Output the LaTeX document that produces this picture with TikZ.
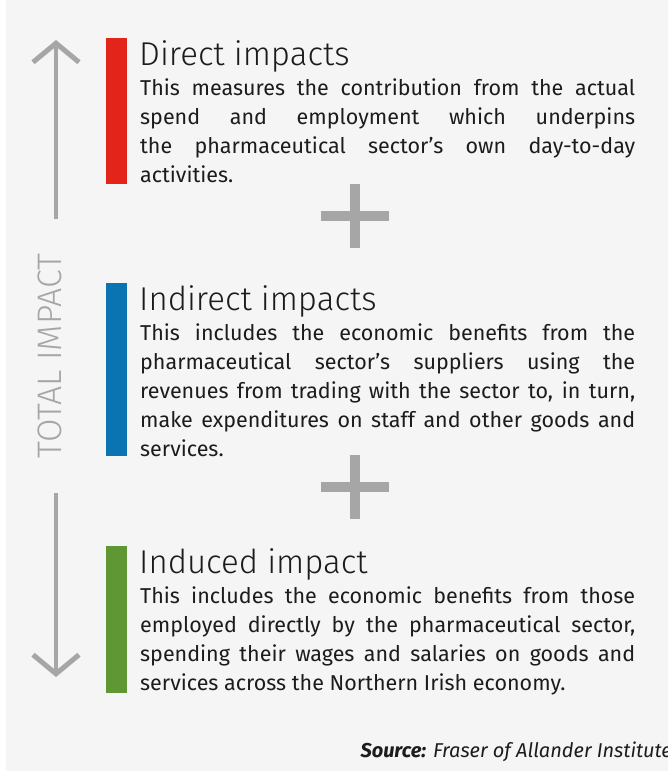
\documentclass[tikz,border=0pt]{standalone}
\usepackage{fontspec}
\setmainfont{Fira Sans}
\newfontfamily\lightfont{Fira Sans Light}
\usetikzlibrary{positioning,arrows.meta}

\definecolor{impred}{HTML}{E3241B}
\definecolor{impblue}{HTML}{0A74B2}
\definecolor{impgreen}{HTML}{5F9735}
\definecolor{impgrey}{HTML}{A6A6A6}
\definecolor{impbg}{HTML}{F5F5F5}
\definecolor{impink}{HTML}{1C1C1C}

\tikzset{
	bar/.style={minimum width=21pt, inner sep=0pt, anchor=north west},
	heading/.style={anchor=base west, inner sep=0pt, text=impink,
		font=\lightfont\fontsize{33}{38}\selectfont},
	body/.style={anchor=base west, inner sep=0pt, text=impink, text width=495pt,
		align=justify, font=\fontsize{21.5}{29}\selectfont},
	plusarm/.style={fill=impgrey, inner sep=0pt},
	impactline/.style={draw=impgrey, line width=4pt,
		-{Straight Barb[length=19pt,width=46pt,line width=5pt]}},
}

\begin{document}
\begin{tikzpicture}[x=1pt,y=-1pt]
	\fill[white] (0,0) rectangle (668,771);
	\fill[impbg] (6,0) rectangle (668,771);
	\useasboundingbox (0,0) rectangle (668,771);

	\node[bar, fill=impred, minimum height=146pt] (redbar) at (106,38) {};
	\node[bar, fill=impblue, minimum height=173pt] (bluebar) at (106,283) {};
	\node[bar, fill=impgreen, minimum height=147pt] (greenbar) at (106,546) {};

	\node[heading] (direct) at (139,65) {Direct impacts};
	\node[body] (directtxt) at (140,95) {This measures the contribution from the actual\linebreak
		spend and employment which underpins\linebreak
		the pharmaceutical sector’s own day-to-day\linebreak
		activities.};

	\node[heading] (indirect) at (139,310) {Indirect impacts};
	\node[body] (indirecttxt) at (140,340) {This includes the economic benefits from the\linebreak
		pharmaceutical sector’s suppliers using the\linebreak
		revenues from trading with the sector to, in turn,\linebreak
		make expenditures on staff and other goods and\linebreak
		services.};

	\node[heading] (induced) at (139,573) {Induced impact};
	\node[body] (inducedtxt) at (140,603) {This includes the economic benefits from those\linebreak
		employed directly by the pharmaceutical sector,\linebreak
		spending their wages and salaries on goods and\linebreak
		services across the Northern Irish economy.};

	\node[plusarm, minimum width=68pt, minimum height=10pt] (plusa) at (355,216) {};
	\node[plusarm, minimum width=10pt, minimum height=64pt] at (plusa) {};
	\node[plusarm, minimum width=68pt, minimum height=10pt] (plusb) at (355,487) {};
	\node[plusarm, minimum width=10pt, minimum height=64pt] at (plusb) {};

	\node[rotate=90, text=impgrey, font=\lightfont\fontsize{34}{34}\selectfont] (total) at (50,356) {TOTAL IMPACT};
	\coordinate (uptip) at (56,40);
	\coordinate (upend) at (56,219);
	\coordinate (downend) at (56,493);
	\coordinate (downtip) at (56,677);
	\draw[impactline] (upend) -- (uptip);
	\draw[impactline] (downend) -- (downtip);

	\node[anchor=base east, inner sep=0pt, text=impink, font=\itshape\fontsize{20}{22}\selectfont] (source) at (672,757) {\textbf{Source:} Fraser of Allander Institute};
\end{tikzpicture}
\end{document}
